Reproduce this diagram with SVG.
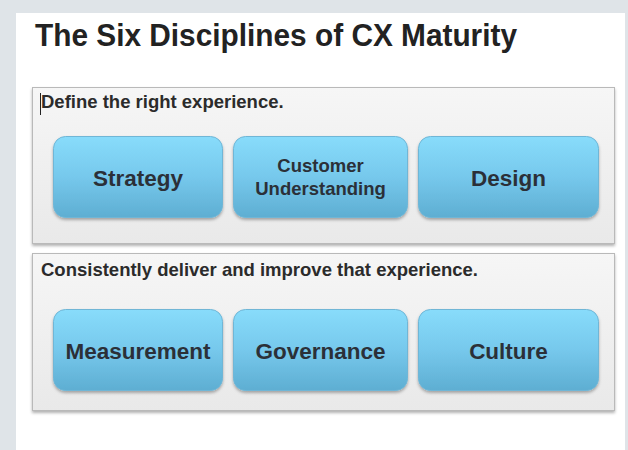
<svg xmlns="http://www.w3.org/2000/svg" width="628" height="450" viewBox="0 0 628 450">
<defs>
<linearGradient id="btn" x1="0" y1="0" x2="0" y2="1">
<stop offset="0" stop-color="#88dcfb"/>
<stop offset="0.5" stop-color="#76c8ec"/>
<stop offset="1" stop-color="#5eaed2"/>
</linearGradient>
<linearGradient id="panel" x1="0" y1="0" x2="0" y2="1">
<stop offset="0" stop-color="#f6f6f6"/>
<stop offset="1" stop-color="#e9e9e9"/>
</linearGradient>
<filter id="sh" x="-10%" y="-10%" width="120%" height="130%">
<feDropShadow dx="0" dy="2" stdDeviation="1.5" flood-color="#000" flood-opacity="0.3"/>
</filter>
</defs>
<style>
.btn{fill:url(#btn);stroke:#6fb6d6;stroke-width:1;filter:url(#sh)}
.panel{fill:url(#panel);stroke:#b9b9b9;stroke-width:1;filter:url(#sh)}
.lbl{font-family:"Liberation Sans",Arial,sans-serif;font-weight:bold;fill:#2b3038;text-anchor:middle}
.big{font-size:22.5px}
.small{font-size:18.5px}
.cap{font-family:"Liberation Sans",Arial,sans-serif;font-weight:bold;font-size:18.5px;fill:#2b2b2b}
</style>
<rect x="0" y="0" width="628" height="450" fill="#dfe4e8"/>
<rect x="16" y="13" width="609" height="437" fill="#ffffff"/>
<text x="35" y="46" font-family="'Liberation Sans',Arial,sans-serif" font-weight="bold" font-size="32" fill="#222" textLength="482" lengthAdjust="spacingAndGlyphs">The Six Disciplines of CX Maturity</text>

<g id="group1">
<rect class="panel" x="32.500" y="87.500" width="582" height="156"/>
<line x1="40.500" y1="93" x2="40.500" y2="115" stroke="#222" stroke-width="1"/>
<text class="cap" x="41" y="108">Define the right experience.</text>
</g>
<g id="strategy">
<rect class="btn" x="53.500" y="136.500" width="169" height="81" rx="12"/>
<text class="lbl big" x="138" y="186">Strategy</text>
</g>
<g id="customer-understanding">
<rect class="btn" x="233.500" y="136.500" width="174" height="81" rx="12"/>
<text class="lbl small" x="320.500" y="172">Customer</text>
<text class="lbl small" x="320.500" y="195">Understanding</text>
</g>
<g id="design">
<rect class="btn" x="418.500" y="136.500" width="180" height="81" rx="12"/>
<text class="lbl big" x="508.500" y="186">Design</text>
</g>

<g id="group2">
<rect class="panel" x="32.500" y="253.500" width="582" height="157"/>
<text class="cap" x="41" y="276">Consistently deliver and improve that experience.</text>
</g>
<g id="measurement">
<rect class="btn" x="53.500" y="309.500" width="169" height="81" rx="12"/>
<text class="lbl big" x="138" y="359">Measurement</text>
</g>
<g id="governance">
<rect class="btn" x="233.500" y="309.500" width="174" height="81" rx="12"/>
<text class="lbl big" x="320.500" y="359">Governance</text>
</g>
<g id="culture">
<rect class="btn" x="418.500" y="309.500" width="180" height="81" rx="12"/>
<text class="lbl big" x="508.500" y="359">Culture</text>
</g>
<g id="connectors"/>
</svg>
